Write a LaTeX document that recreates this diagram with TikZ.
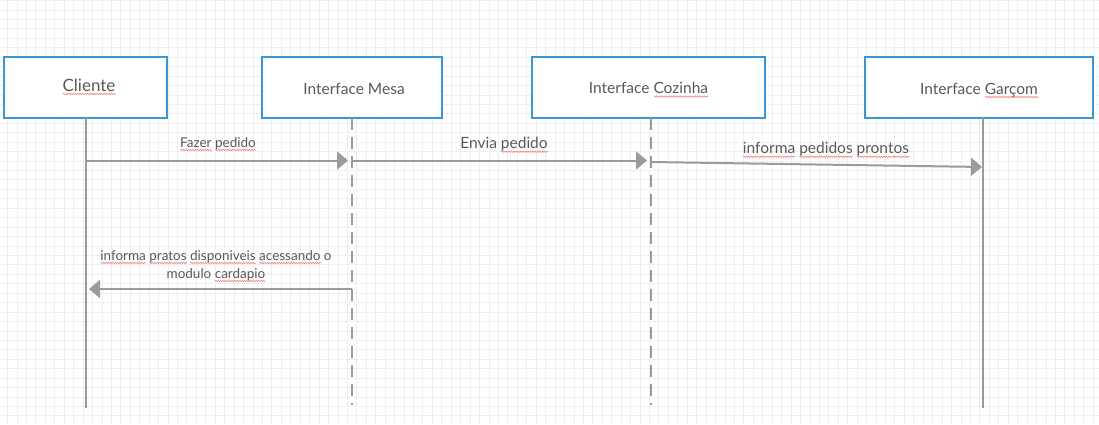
\documentclass[tikz,border=0pt]{standalone}
\usepackage{fontspec}
\setmainfont{Lato}
\usetikzlibrary{arrows.meta,decorations.pathmorphing}
\definecolor{boxblue}{HTML}{3A97D6}
\definecolor{linegray}{HTML}{9B9B9B}
\definecolor{txt}{HTML}{595959}
\definecolor{gridc}{HTML}{EFEFEF}
\definecolor{squig}{HTML}{F07878}
\newsavebox\sqbox
\newlength\sqlen
\newcommand\sq[1]{\sbox\sqbox{#1}\setlength\sqlen{\wd\sqbox}\leavevmode\rlap{\tikz[baseline=0pt]\draw[draw=squig, fill=none, line width=0.5pt, solid, decorate, decoration={zigzag,amplitude=0.7pt,segment length=2.4pt}] (0pt,-3pt) -- (\sqlen,-3pt);}\usebox\sqbox}
\tikzset{
  box/.style={draw=boxblue, line width=2pt, fill=white, inner sep=0pt, minimum height=61pt},
  boxtxt/.style={text=txt, inner sep=0pt, anchor=base, font=\fontsize{15.5}{18}\selectfont},
  life/.style={draw=linegray, line width=2pt},
  lifedash/.style={life, dash pattern=on 12pt off 7pt},
  msg/.style={draw=linegray, line width=2pt, -{Triangle[length=11pt,width=18pt]}, shorten >=4pt},
  lbl/.style={text=txt, inner sep=0pt, align=center},
}
\begin{document}
\begin{tikzpicture}[x=1pt,y=-1pt]
\useasboundingbox (0,0) rectangle (1099,424);
\fill[white] (0,0) rectangle (1099,424);
% grid
\foreach \i in {0,...,116} {\draw[gridc, line width=0.8pt] (7.5+9.44*\i,0) -- (7.5+9.44*\i,424);}
\foreach \j in {0,...,45} {\draw[gridc, line width=0.8pt] (0,0.5+9.44*\j) -- (1099,0.5+9.44*\j);}
% boxes
\node[box, minimum width=163pt] (cli) at (85.5,87.5) {};
\node[box, minimum width=180pt] (mesa) at (352,87.5) {};
\node[box, minimum width=233pt] (coz) at (648.5,87.5) {};
\node[box, minimum width=228pt] (gar) at (979,87.5) {};
\node[boxtxt, font=\fontsize{17}{20}\selectfont] (clit) at (89,91) {\sq{Cliente}};
\node[boxtxt] (mesat) at (354,94) {Interface Mesa};
\node[boxtxt] (cozt) at (648.5,93.5) {Interface \sq{Cozinha}};
\node[boxtxt] (gart) at (979,94) {Interface \sq{Garçom}};
% lifeline ends
\coordinate (cliT) at (86,118);
\coordinate (cliE) at (86,408);
\coordinate (mesaT) at (352,118);
\coordinate (mesaE) at (352,405);
\coordinate (cozT) at (651,118);
\coordinate (cozE) at (651,405);
\coordinate (garT) at (983,118);
\coordinate (garE) at (983,408);
\draw[life] (cliT) -- (cliE);
\draw[lifedash] (mesaT) -- (mesaE);
\draw[lifedash] (cozT) -- (cozE);
\draw[life] (garT) -- (garE);
% messages
\coordinate (m1a) at (86,160.5);
\coordinate (m1b) at (352,160.5);
\coordinate (m2b) at (651,160.5);
\coordinate (m3a) at (651,162);
\coordinate (m3b) at (983,167);
\coordinate (m4a) at (352,289);
\coordinate (m4b) at (86,289);
\draw[msg] (m1a) -- (m1b);
\draw[msg] (m1b) -- (m2b);
\draw[msg, shorten >=1pt] (m3a) -- (m3b);
\draw[msg, shorten >=3pt] (m4a) -- (m4b);
% labels
\node[lbl, font=\fontsize{13.5}{16}\selectfont] (l1) at (218,144) {\sq{Fazer} \sq{pedido}};
\node[lbl, font=\fontsize{15.5}{18}\selectfont] (l2) at (504,145) {Envia \sq{pedido}};
\node[lbl, font=\fontsize{15.5}{18}\selectfont] (l3) at (826,150) {\sq{informa} \sq{pedidos} \sq{prontos}};
\node[lbl, font=\fontsize{13.5}{18}\selectfont] (l4) at (216,266) {\sq{informa} \sq{pratos} \sq{disponiveis} \sq{acessando} o\\ modulo \sq{cardapio}};
\end{tikzpicture}
\end{document}
